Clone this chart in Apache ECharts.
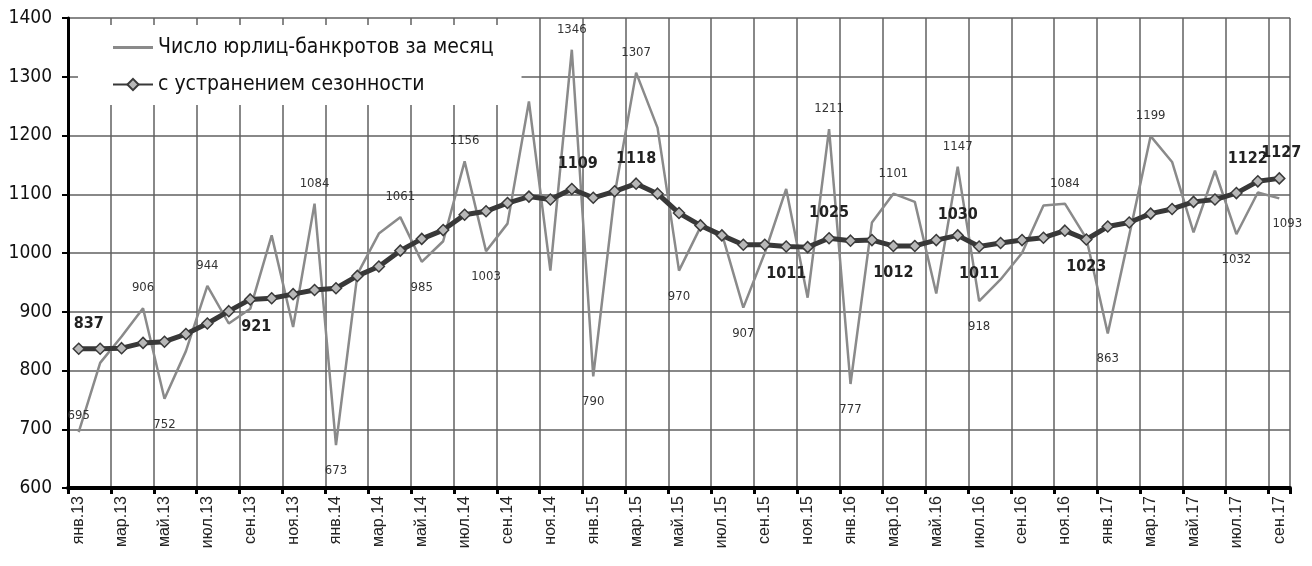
<!DOCTYPE html>
<html>
<head>
<meta charset="utf-8">
<script src="https://cdn.jsdelivr.net/npm/echarts@6/dist/echarts.min.js"></script>
<style>
  html, body { margin: 0; padding: 0; background: #fff; }
  #chart { width: 1312px; height: 566px; }
</style>
</head>
<body>
<div id="chart"></div>
<script>
// Monthly categories, Jan 2013 – Sep 2017
const monthNames = ['янв', 'фев', 'мар', 'апр', 'май', 'июн', 'июл', 'авг', 'сен', 'окт', 'ноя', 'дек'];
const years = ['13', '14', '15', '16', '17'];
const lastMonthIndex = 8; // сен.17

const categories = [];
years.forEach((y, yi) => {
  monthNames.forEach((m, mi) => {
    if (yi === years.length - 1 && mi > lastMonthIndex) return;
    categories.push(m + '.' + y);
  });
});

// Number of bankrupt legal entities per month
const bankruptsMonthly = [
  695, 813, 858, 906, 752, 833, 944, 880, 905, 1030, 874, 1084,
  673, 964, 1033, 1061, 985, 1020, 1156, 1003, 1050, 1258, 970, 1346,
  790, 1100, 1307, 1213, 970, 1044, 1033, 907, 1000, 1109, 924, 1211,
  777, 1052, 1101, 1087, 931, 1147, 918, 955, 1000, 1081, 1084, 1025,
  863, 1030, 1199, 1155, 1035, 1140, 1032, 1103, 1093
];

// Seasonally adjusted series
const bankruptsAdjusted = [
  837, 837, 838, 847, 849, 862, 880, 901, 921, 923, 930, 937,
  940, 961, 977, 1004, 1024, 1039, 1065, 1071, 1085, 1096, 1091, 1109,
  1094, 1105, 1118, 1101, 1068, 1047, 1030, 1014, 1014, 1011, 1010, 1025,
  1021, 1022, 1012, 1012, 1022, 1030, 1011, 1017, 1022, 1026, 1038, 1023,
  1045, 1052, 1067, 1075, 1087, 1091, 1102, 1122, 1127
];

const seriesNames = ['Число юрлиц-банкротов за месяц', 'с устранением сезонности'];

// Which points carry a value label, and on which side of the line
const monthlyLabelSide = {
  0: 'top', 3: 'top', 4: 'bottom', 6: 'top', 11: 'top', 12: 'bottom',
  15: 'top', 16: 'bottom', 18: 'top', 19: 'bottom', 23: 'top', 24: 'bottom',
  26: 'top', 28: 'bottom', 31: 'bottom', 35: 'top', 36: 'bottom', 38: 'top',
  41: 'top', 42: 'bottom', 46: 'top', 48: 'bottom', 50: 'top', 54: 'bottom',
  56: 'bottom'
};
const adjustedLabelSide = {
  0: 'top', 8: 'bottom', 23: 'top', 26: 'top', 33: 'bottom', 35: 'top',
  38: 'bottom', 41: 'top', 42: 'bottom', 47: 'bottom', 55: 'top', 56: 'top'
};

const narrow = "'Liberation Sans Narrow', 'Arial Narrow', 'DejaVu Sans Condensed', sans-serif";

function withLabels(values, sides, style, offsets) {
  return values.map((v, i) => {
    const side = sides[i];
    if (!side) return v;
    const lbl = {
      show: true,
      position: side,
      fontFamily: style.fontFamily,
      fontSize: style.fontSize,
      fontWeight: style.fontWeight,
      color: style.color,
      distance: side === 'top' ? style.distTop : style.distBottom,
      formatter: '{c}'
    };
    if (offsets && offsets[i]) lbl.offset = offsets[i];
    return { value: v, label: lbl };
  });
}

const monthlyData = withLabels(bankruptsMonthly, monthlyLabelSide, {
  fontFamily: narrow, fontSize: 13, color: '#333', fontWeight: 'normal',
  distTop: 14, distBottom: 19
}, { 0: [0, 4], 56: [8, 0] });

const adjustedData = withLabels(bankruptsAdjusted, adjustedLabelSide, {
  fontFamily: narrow, fontSize: 16, color: '#222', fontWeight: 'bold',
  distTop: 11, distBottom: 13
}, { 0: [10, 0], 8: [6, 0], 23: [6, 0], 41: [0, 5], 55: [-10, 3], 56: [2, 0] });

const chart = echarts.init(document.getElementById('chart'), null, { renderer: 'canvas' });

chart.setOption({
  animation: false,
  backgroundColor: '#fff',
  grid: { left: 68, right: 22, top: 18, bottom: 78, containLabel: false },
  legend: {
    orient: 'vertical',
    left: 78,
    top: 25,
    backgroundColor: '#fff',
    padding: [12, 28, 10, 34],
    itemGap: 16,
    itemWidth: 40,
    itemHeight: 14,
    textStyle: { fontFamily: narrow, fontSize: 21, color: '#111' },
    data: [
      {
        name: seriesNames[0],
        icon: 'path://M0,0L40,0L40,3L0,3Z',
        itemStyle: { color: '#8a8a8a' }
      },
      { name: seriesNames[1] }
    ]
  },
  xAxis: {
    type: 'category',
    data: categories,
    boundaryGap: true,
    axisLine: { show: true, lineStyle: { color: '#000', width: 4 } },
    axisTick: { show: true, interval: 1, length: 6, lineStyle: { color: '#000', width: 3 } },
    axisLabel: {
      interval: 1, rotate: 90, margin: 8,
      fontFamily: "'Liberation Sans', Arial, sans-serif", fontSize: 16, color: '#222'
    },
    splitLine: { show: true, interval: 1, lineStyle: { color: '#606060', width: 1.5 } }
  },
  yAxis: {
    type: 'value',
    min: 600,
    max: 1400,
    interval: 100,
    axisLine: { show: true, lineStyle: { color: '#000', width: 3 } },
    axisTick: { show: true, length: 6, lineStyle: { color: '#000', width: 2 } },
    axisLabel: {
      margin: 16, fontFamily: narrow, fontSize: 19, color: '#111',
      formatter: (v) => String(v)
    },
    splitLine: { show: true, lineStyle: { color: '#606060', width: 1.5 } }
  },
  series: [
    {
      name: seriesNames[0],
      type: 'line',
      data: monthlyData,
      symbol: 'circle',
      symbolSize: 0,
      showAllSymbol: true,
      lineStyle: { color: '#8a8a8a', width: 2.5 },
      itemStyle: { color: '#8a8a8a' },
      emphasis: { disabled: true },
      z: 2
    },
    {
      name: seriesNames[1],
      type: 'line',
      data: adjustedData,
      symbol: 'diamond',
      symbolSize: 11,
      showAllSymbol: true,
      lineStyle: { color: '#383838', width: 5 },
      itemStyle: { color: '#b8b8b8', borderColor: '#3a3a3a', borderWidth: 1.5 },
      emphasis: { disabled: true },
      z: 3
    }
  ]
});
</script>
</body>
</html>
